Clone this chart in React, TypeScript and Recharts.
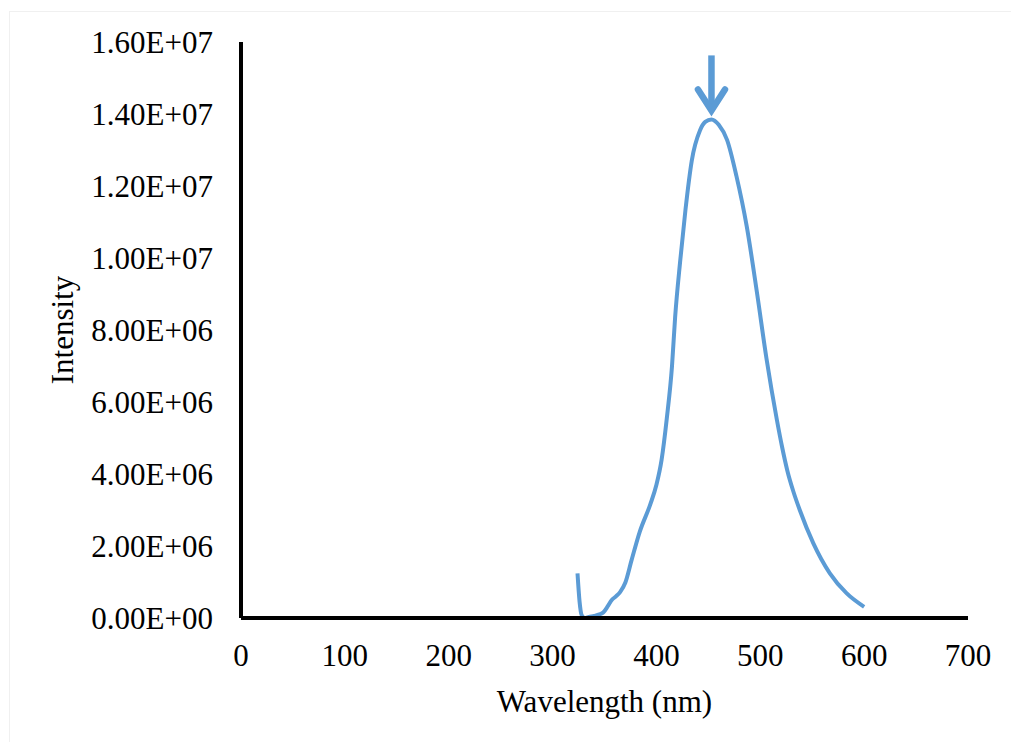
import React from 'react';
import {
  LineChart,
  Line,
  XAxis,
  YAxis,
  ReferenceDot,
  Label,
} from 'recharts';

// emission spectrum
const wavelengths = [
  324, 326, 328, 331, 335, 340, 345, 349, 353, 357, 361, 365, 370, 376, 384,
  394, 400, 405, 410, 415, 418, 423, 428, 434, 442, 447, 453, 460, 468, 477,
  487, 497, 506, 516, 521, 526, 532, 538, 551, 567, 583, 600,
];
const intensities = [
  1.24e6, 0.45e6, 0.08e6, 0.0, 0.03e6, 0.06e6, 0.1e6, 0.16e6, 0.32e6, 0.5e6,
  0.6e6, 0.72e6, 0.98e6, 1.6e6, 2.4e6, 3.15e6, 3.7e6, 4.4e6, 5.55e6, 7.0e6,
  8.35e6, 9.95e6, 11.35e6, 12.7e6, 13.55e6, 13.78e6, 13.85e6, 13.7e6, 13.28e6,
  12.28e6, 10.87e6, 9.0e6, 7.2e6, 5.5e6, 4.75e6, 4.1e6, 3.5e6, 3.0e6, 2.08e6,
  1.24e6, 0.69e6, 0.31e6,
];
const xTicks = [0, 100, 200, 300, 400, 500, 600, 700];
const yTicks = [0, 2e6, 4e6, 6e6, 8e6, 1e7, 1.2e7, 1.4e7, 1.6e7];

const data = wavelengths.map((w, i) => ({ wavelength: w, intensity: intensities[i] }));

const peakIndex = intensities.indexOf(Math.max(...intensities));

const FONT = '"Liberation Serif", "Times New Roman", serif';
const BLUE = '#5B9BD5';

const formatSci = (v: number) => {
  if (v === 0) return '0.00E+00';
  const [mant, exp] = v.toExponential(2).split('e');
  const n = Number(exp);
  const sign = n < 0 ? '-' : '+';
  return `${mant}E${sign}${String(Math.abs(n)).padStart(2, '0')}`;
};

const PeakArrow = (props: any) => {
  const { cx, cy } = props;
  if (cx == null || cy == null) return null;
  return (
    <g>
      <line x1={cx} y1={cy - 64} x2={cx} y2={cy - 12} stroke={BLUE} strokeWidth={6.5} />
      <polyline
        points={`${cx - 13.5},${cy - 30} ${cx},${cy - 9} ${cx + 13.5},${cy - 30}`}
        fill="none"
        stroke={BLUE}
        strokeWidth={6.5}
        strokeLinecap="round"
        strokeLinejoin="miter"
        strokeMiterlimit={10}
      />
    </g>
  );
};

export default function App() {
  return (
    <div
      style={{
        position: 'absolute',
        left: 0,
        top: 0,
        width: 1011,
        height: 742,
        background: '#fff',
        overflow: 'hidden',
      }}
    >
      <div
        style={{
          position: 'absolute',
          left: 9,
          top: 11,
          width: 1100,
          height: 800,
          borderLeft: '1px solid #f0f0f0',
          borderTop: '1px solid #f0f0f0',
        }}
      />
      <div style={{ position: 'absolute', left: 0, top: 0 }}>
        <LineChart
          width={1011}
          height={742}
          data={data}
          margin={{ top: 42, right: 43, bottom: 0, left: 0 }}
        >
          <XAxis
            dataKey="wavelength"
            type="number"
            domain={[0, 700]}
            ticks={xTicks}
            height={124}
            axisLine={{ stroke: '#000', strokeWidth: 4 }}
            tickLine={false}
            tickSize={0}
            tickMargin={26}
            tick={{ fill: '#000', fontSize: 31, fontFamily: FONT }}
          >
            <Label
              content={({ viewBox }: any) => (
                <text
                  x={viewBox.x + viewBox.width / 2}
                  y={viewBox.y + 94}
                  textAnchor="middle"
                  fill="#000"
                  fontSize={31}
                  fontFamily={FONT}
                >
                  Wavelength (nm)
                </text>
              )}
            />
          </XAxis>
          <YAxis
            type="number"
            domain={[0, 1.6e7]}
            ticks={yTicks}
            width={241}
            axisLine={{ stroke: '#000', strokeWidth: 4 }}
            tickLine={false}
            tickSize={0}
            tickMargin={28}
            tickFormatter={formatSci}
            tick={{ fill: '#000', fontSize: 31, fontFamily: FONT }}
          >
            <Label
              content={({ viewBox }: any) => {
                const x = viewBox.x + 73;
                const y = viewBox.y + viewBox.height / 2;
                return (
                  <text
                    x={x}
                    y={y}
                    transform={`rotate(-90, ${x}, ${y})`}
                    textAnchor="middle"
                    fill="#000"
                    fontSize={31}
                    fontFamily={FONT}
                  >
                    Intensity
                  </text>
                );
              }}
            />
          </YAxis>
          <Line
            type="monotone"
            dataKey="intensity"
            stroke={BLUE}
            strokeWidth={4}
            dot={false}
            activeDot={false}
            isAnimationActive={false}
          />
          <ReferenceDot
            x={wavelengths[peakIndex]}
            y={intensities[peakIndex]}
            shape={PeakArrow}
          />
        </LineChart>
      </div>
    </div>
  );
}
